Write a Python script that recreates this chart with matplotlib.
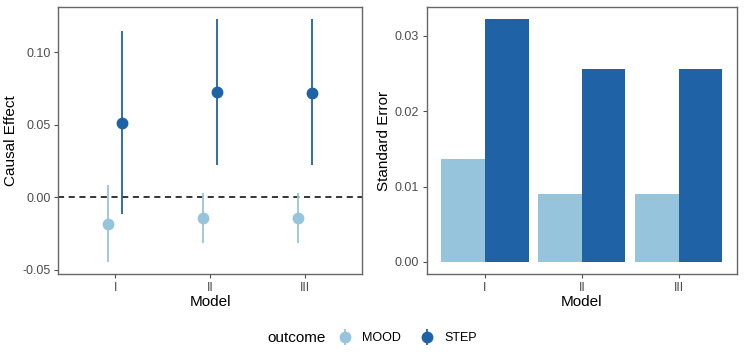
import numpy as np
import matplotlib
matplotlib.use("Agg")
import matplotlib.pyplot as plt
from matplotlib.lines import Line2D
from matplotlib.legend_handler import HandlerTuple
from matplotlib.offsetbox import HPacker

plt.rcParams["font.family"] = ["Liberation Sans", "DejaVu Sans"]

# ---------------------------------------------------
# DATA
# ---------------------------------------------------
models = ["I", "II", "III"]
outcomes = ["MOOD", "STEP"]

mood_est = [-0.0186, -0.0145, -0.0145]
mood_lo = [-0.0448, -0.0317, -0.0317]
mood_hi = [0.0083, 0.0028, 0.0028]

step_est = [0.0513, 0.0724, 0.0722]
step_lo = [-0.0117, 0.0221, 0.0221]
step_hi = [0.1145, 0.1228, 0.1225]

mood_se = [0.0136, 0.0090, 0.0090]
step_se = [0.0322, 0.0256, 0.0256]

colors = {"MOOD": "#97C4DD", "STEP": "#1F63A6"}
tick_col = "#4D4D4D"
frame_col = "#666666"

# ---------------------------------------------------
# FIGURE
# ---------------------------------------------------
fig = plt.figure(figsize=(7.45, 3.55), dpi=100)
ax1 = fig.add_axes([0.078, 0.228, 0.408, 0.752])
ax2 = fig.add_axes([0.573, 0.228, 0.416, 0.752])

x = np.arange(1, len(models) + 1)

# Left: point ranges
ax1.axhline(0, color="black", lw=1.1, ls=(0, (4, 3)), zorder=1)
series = [("MOOD", mood_est, mood_lo, mood_hi, -0.075),
          ("STEP", step_est, step_lo, step_hi, 0.075)]
for name, est, lo, hi, off in series:
    xs = x + off
    ax1.vlines(xs, lo, hi, color=colors[name], lw=1.3, zorder=2)
    ax1.plot(xs, est, "o", color=colors[name], ms=7.5, zorder=3)

ax1.set_xlim(0.4, 3.6)
ax1.set_ylim(-0.0528, 0.131)
ax1.set_yticks([-0.05, 0.0, 0.05, 0.10])
ax1.set_yticklabels(["-0.05", "0.00", "0.05", "0.10"])
ax1.set_ylabel("Causal Effect", fontsize=11, labelpad=3)

# Right: standard error bars
w = 0.45
ax2.bar(x - w / 2, mood_se, width=w, color=colors["MOOD"])
ax2.bar(x + w / 2, step_se, width=w, color=colors["STEP"])
ax2.set_xlim(0.4, 3.6)
ax2.set_ylim(-0.0016, 0.0338)
ax2.set_yticks([0.0, 0.01, 0.02, 0.03])
ax2.set_yticklabels(["0.00", "0.01", "0.02", "0.03"])
ax2.set_ylabel("Standard Error", fontsize=11, labelpad=3)

for ax in (ax1, ax2):
    ax.set_xticks(x)
    ax.set_xticklabels(models)
    ax.set_xlabel("Model", fontsize=11, labelpad=1)
    ax.tick_params(colors=tick_col, labelsize=9, length=3, width=0.8,
                   labelcolor=tick_col, pad=2.5)
    for sp in ax.spines.values():
        sp.set_color(frame_col)
        sp.set_linewidth(1.0)

# Legend
handles = []
for name in outcomes:
    bar = Line2D([], [], marker="|", ms=12, mew=1.3, color=colors[name], ls="")
    pt = Line2D([], [], marker="o", ms=7.5, color=colors[name], ls="")
    handles.append((bar, pt))
leg = fig.legend(handles, outcomes, loc="center", bbox_to_anchor=(0.5, 0.048),
                 ncol=2, frameon=False, fontsize=9, title="outcome",
                 handler_map={tuple: HandlerTuple(ndivide=1, pad=0)},
                 handlelength=1.2, columnspacing=1.5, handletextpad=0.8)
leg.get_title().set_fontsize(11)
# put title on the left of the entries
box = leg._legend_box
box.__class__ = HPacker
box.sep = 8
box.align = "center"

fig.savefig("out.png", dpi=100)
